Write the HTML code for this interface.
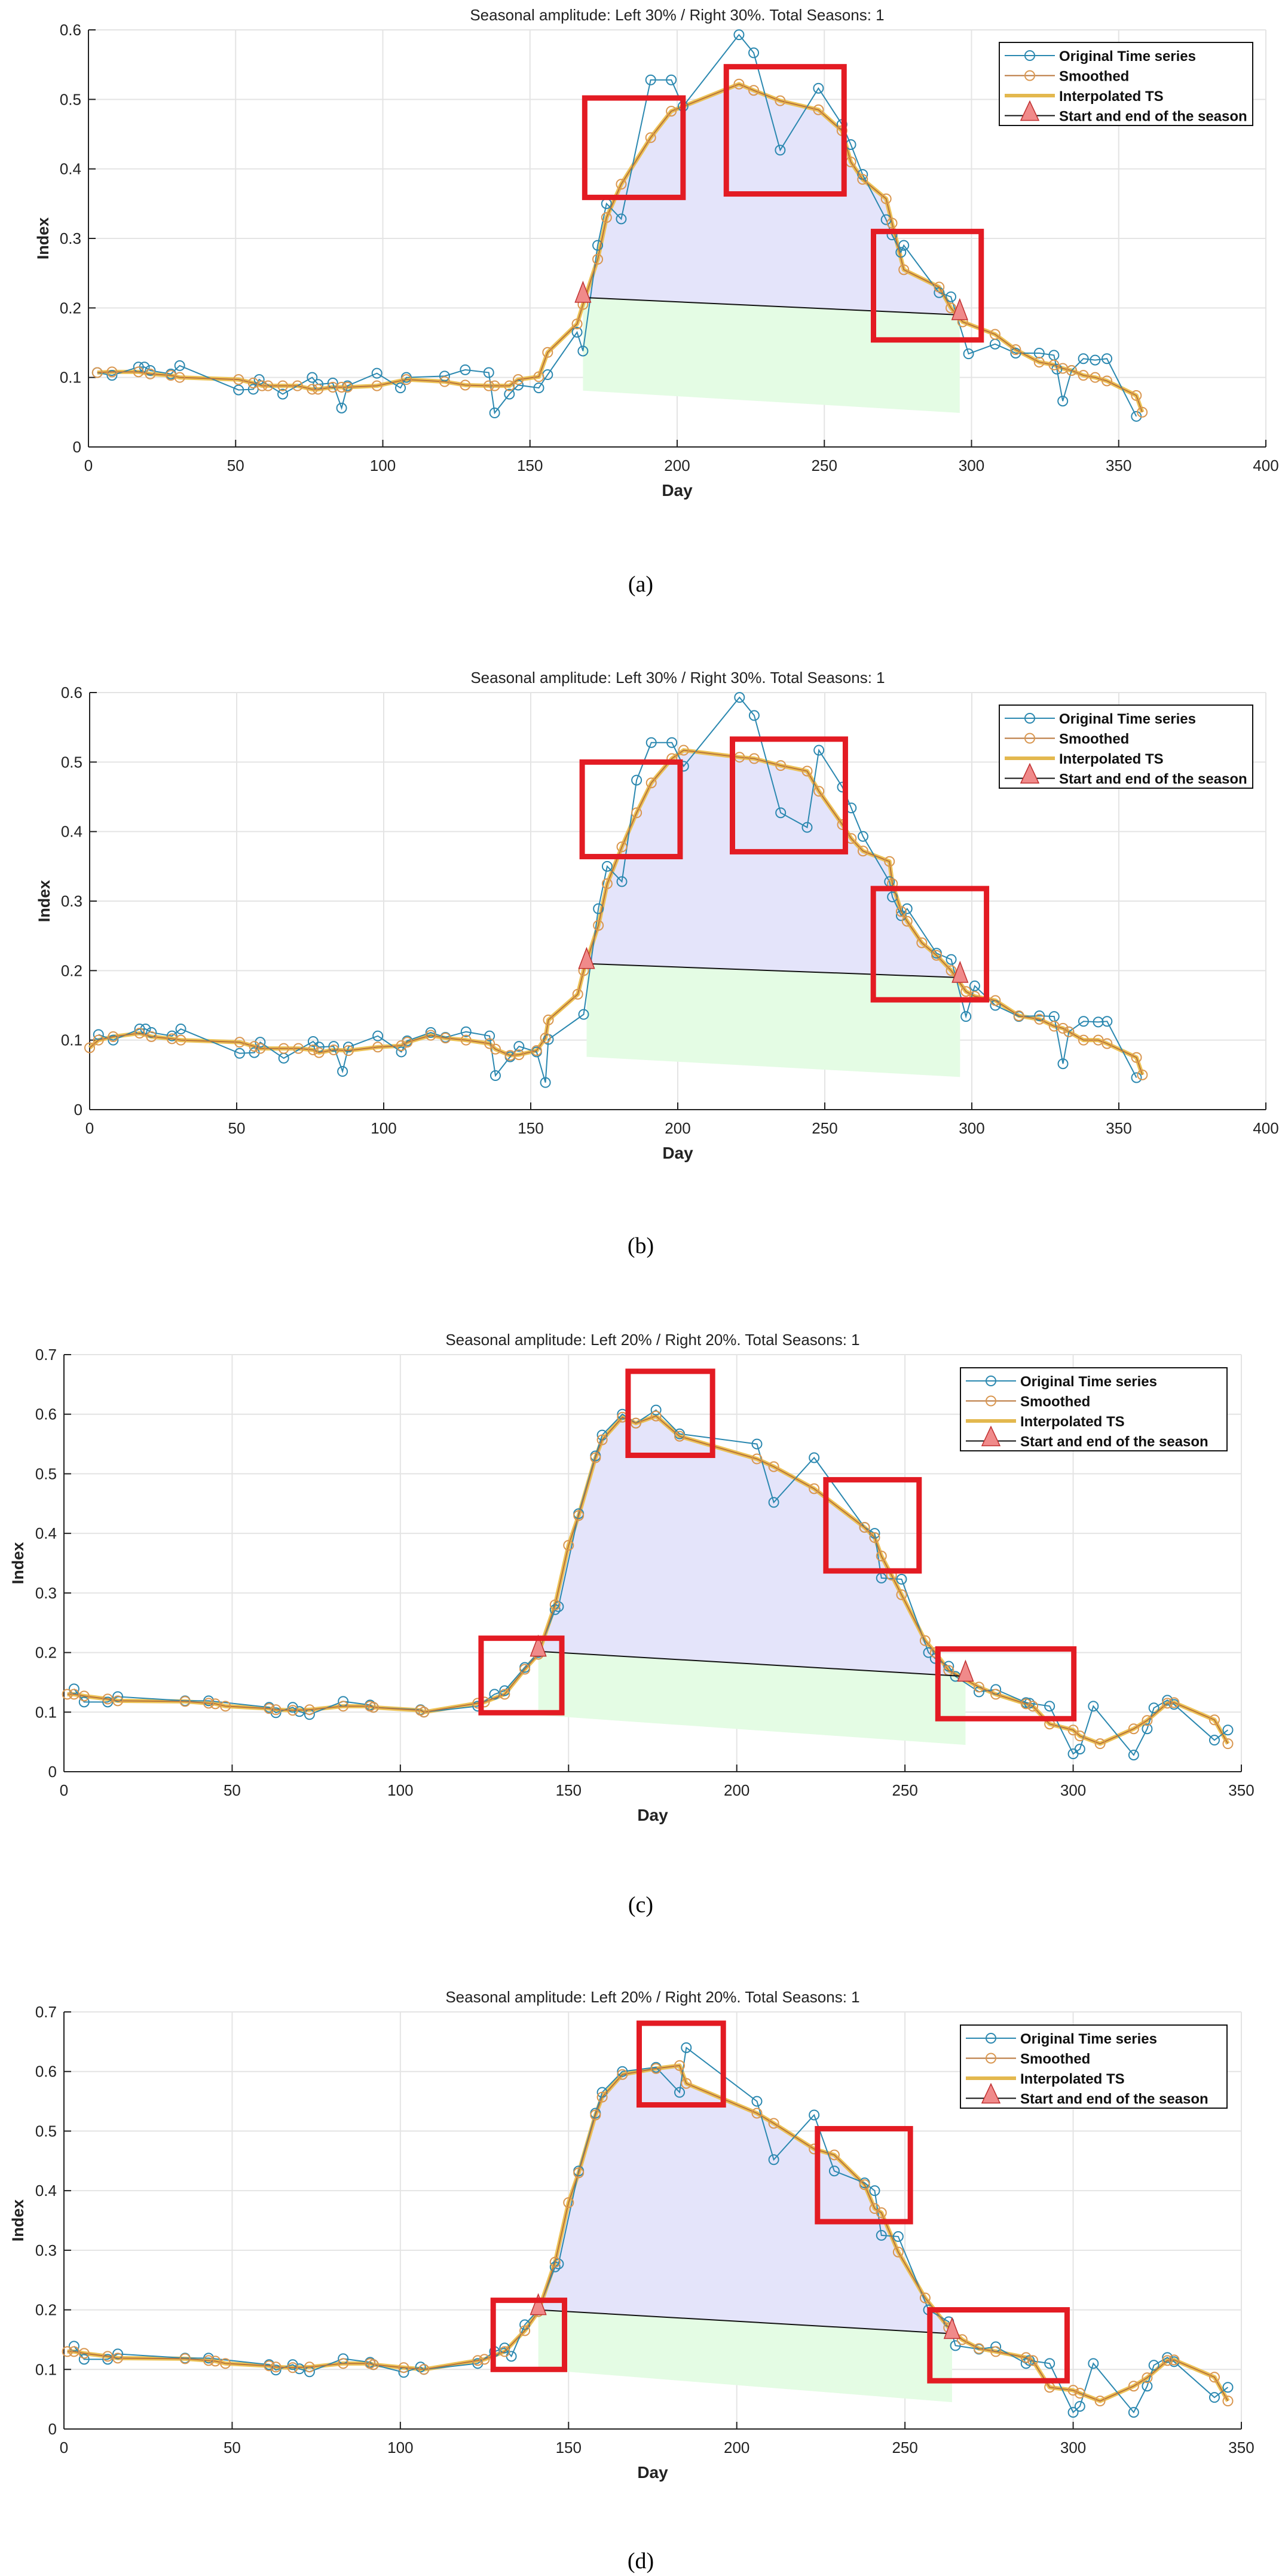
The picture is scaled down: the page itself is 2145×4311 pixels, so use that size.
<!DOCTYPE html>
<html><head><meta charset="utf-8"><style>
html,body{margin:0;padding:0;background:#fff;}
svg{display:block;font-family:"Liberation Sans",Arial,sans-serif;}
</style></head>
<body>
<svg id="fig" width="2145" height="4311" viewBox="0 0 2145 4311" xmlns="http://www.w3.org/2000/svg"></svg>
<script>
// ---------- Panel (a) data ----------
const aOrigDay=[3,8,17,19,21,28,31,51,56,58,66,76,78,83,86,88,98,106,108,121,128,136,138,143,146,153,156,166,168,173,176,181,191,198,202,221,226,235,248,256,259,263,271,273,276,277,289,293,299,308,315,323,328,329,331,334,338,342,346,356];
const aOrigVal=[.107,.103,.115,.115,.11,.105,.117,.082,.083,.097,.076,.1,.09,.092,.056,.088,.106,.085,.1,.102,.111,.107,.049,.076,.089,.085,.104,.165,.138,.29,.35,.328,.528,.528,.49,.593,.567,.427,.516,.464,.435,.392,.327,.305,.28,.29,.222,.216,.134,.148,.135,.135,.132,.112,.066,.11,.127,.125,.127,.044];
const aSmDay=[3,8,17,21,28,31,51,56,59,61,66,71,76,78,83,86,88,98,108,121,128,136,138,143,146,153,156,166,168,173,176,181,191,198,221,226,235,248,256,259,263,271,273,277,289,293,297,308,315,323,328,331,334,338,342,346,356,358];
const aSmVal=[.107,.108,.108,.105,.103,.1,.097,.092,.088,.088,.088,.088,.083,.083,.086,.086,.086,.088,.097,.094,.089,.088,.088,.088,.097,.101,.136,.177,.205,.27,.33,.378,.445,.483,.522,.513,.498,.485,.455,.41,.385,.357,.322,.255,.23,.2,.18,.162,.14,.122,.118,.113,.11,.103,.1,.095,.074,.05];
const aSeasonDay=[168,296];
const aSeasonVal=[.215,.19];
const aGreenLow=[.081,.049];
const aBoxes=[[168.6,202,.502,.359],[216.7,256.7,.547,.364],[266.7,303.3,.31,.154]];
// ---------- Panel (b) data ----------
const bOrigDay=[3,8,17,19,21,28,31,51,56,58,66,76,78,83,86,88,98,106,108,116,121,128,136,138,143,146,152,155,156,168,173,176,181,186,191,198,202,221,226,235,244,248,256,259,263,272,273,276,278,288,293,298,301,308,316,323,328,331,333,338,343,346,356];
const bOrigVal=[.108,.1,.116,.116,.111,.106,.116,.081,.082,.097,.074,.098,.09,.091,.055,.09,.106,.083,.099,.111,.104,.112,.106,.049,.076,.091,.083,.039,.101,.137,.289,.35,.328,.474,.528,.528,.494,.593,.567,.427,.406,.517,.464,.434,.393,.328,.306,.279,.289,.225,.216,.134,.178,.15,.134,.135,.134,.066,.112,.127,.126,.127,.046];
const bSmDay=[0,3,8,17,21,28,31,51,56,58,66,71,76,78,83,88,98,106,108,116,121,128,136,138,143,146,152,155,156,166,168,173,176,181,186,191,198,202,221,226,235,244,248,256,259,263,272,273,276,278,283,288,293,298,301,308,316,323,328,331,333,338,343,346,356,358];
const bSmVal=[.089,.1,.105,.11,.105,.102,.1,.097,.091,.088,.088,.088,.086,.082,.086,.085,.09,.092,.097,.107,.103,.1,.095,.087,.078,.079,.085,.103,.129,.166,.2,.265,.325,.378,.427,.47,.505,.517,.507,.505,.495,.487,.458,.41,.39,.372,.357,.325,.285,.271,.24,.222,.2,.17,.163,.157,.135,.13,.12,.117,.112,.1,.1,.095,.075,.05];
const bSeasonDay=[169,296];
const bSeasonVal=[.21,.19];
const bGreenLow=[.076,.047];
const bBoxes=[[167.5,200.8,.5,.364],[218.6,257,.533,.371],[266.5,305,.318,.158]];
// ---------- Panel (c) data ----------
const cOrigDay=[3,6,13,16,36,43,61,63,68,70,73,83,91,92,106,107,123,128,131,137,141,146,147,153,158,160,166,170,176,183,206,211,223,238,241,243,249,257,259,263,265,272,277,286,287,293,300,302,306,318,322,324,328,330,342,346];
const cOrigVal=[.139,.117,.117,.126,.119,.119,.108,.099,.108,.101,.096,.118,.112,.108,.104,.1,.11,.13,.136,.175,.2,.272,.277,.433,.53,.565,.6,.585,.607,.567,.55,.452,.527,.41,.4,.325,.323,.2,.19,.177,.16,.134,.138,.116,.115,.11,.03,.038,.11,.028,.072,.107,.12,.113,.053,.07];
const cSmDay=[1,3,6,13,16,36,43,45,48,61,63,68,73,83,91,92,106,107,123,125,131,137,141,146,150,153,158,160,166,170,176,183,206,211,223,238,241,243,246,249,256,259,263,272,277,286,288,293,300,302,308,318,322,328,330,342,346];
const cSmVal=[.13,.13,.127,.122,.119,.118,.115,.114,.11,.106,.104,.103,.104,.11,.11,.108,.103,.1,.115,.117,.13,.172,.197,.28,.38,.43,.527,.557,.595,.585,.597,.563,.525,.512,.475,.41,.393,.362,.33,.297,.22,.2,.17,.142,.13,.114,.11,.08,.07,.06,.047,.072,.086,.115,.116,.087,.047];
const cSeasonDay=[141,268];
const cSeasonVal=[.202,.16];
const cGreenLow=[.095,.045];
const cBoxes=[[124,148,.224,.099],[167.7,192.8,.672,.531],[226.5,254.2,.49,.337],[259.8,300.2,.206,.089]];
// ---------- Panel (d) data ----------
const dOrigDay=[3,6,13,16,36,43,61,63,68,70,73,83,91,92,101,106,107,123,128,131,133,137,141,146,147,153,158,160,166,176,183,185,206,211,223,229,238,241,243,248,257,263,265,272,277,286,287,293,300,302,306,318,322,324,328,330,342,346];
const dOrigVal=[.139,.117,.117,.126,.119,.119,.108,.099,.108,.101,.096,.118,.112,.108,.095,.104,.1,.11,.13,.136,.122,.175,.2,.272,.277,.433,.53,.565,.6,.607,.565,.64,.55,.452,.527,.433,.413,.4,.325,.323,.2,.18,.14,.134,.138,.11,.115,.11,.028,.038,.11,.028,.072,.107,.12,.113,.053,.07];
const dSmDay=[1,3,6,13,16,36,43,45,48,61,63,68,73,83,91,92,101,107,123,125,131,137,141,146,150,153,158,160,166,176,183,185,206,211,223,229,238,241,243,248,256,263,267,272,277,286,288,293,300,302,308,318,322,328,330,342,346];
const dSmVal=[.13,.13,.127,.122,.119,.118,.115,.114,.11,.106,.104,.103,.104,.11,.11,.108,.103,.1,.115,.117,.13,.165,.197,.28,.38,.43,.527,.557,.595,.605,.61,.58,.53,.513,.47,.46,.41,.37,.363,.297,.22,.17,.15,.135,.13,.12,.115,.07,.065,.06,.047,.072,.086,.115,.116,.087,.047];
const dSeasonDay=[141,264];
const dSeasonVal=[.2,.16];
const dGreenLow=[.1,.045];
const dBoxes=[[127.6,148.8,.216,.1],[171,196,.681,.544],[224,251.6,.504,.348],[257.4,298.2,.2,.081]];

const xTicks50=[0,50,100,150,200,250,300,350,400];
const xTicks35=[0,50,100,150,200,250,300,350];
const yTicks6=[0,.1,.2,.3,.4,.5,.6];
const yTicks7=[0,.1,.2,.3,.4,.5,.6,.7];
const titles=["Seasonal amplitude: Left 30% / Right 30%. Total Seasons: 1","Seasonal amplitude: Left 30% / Right 30%. Total Seasons: 1","Seasonal amplitude: Left 20% / Right 20%. Total Seasons: 1","Seasonal amplitude: Left 20% / Right 20%. Total Seasons: 1"];
const legendLabels=["Original Time series","Smoothed","Interpolated TS","Start and end of the season"];

const NS="http://www.w3.org/2000/svg";
const svg=document.getElementById('fig');
function mk(tag,attrs,parent){const e=document.createElementNS(NS,tag);for(const k in attrs)e.setAttribute(k,attrs[k]);(parent||svg).appendChild(e);return e;}

const layout=[
 {id:'a',x0:148,x1:2118,xmax:400,yTop:50,yBot:748,ymax:.6,xt:xTicks50,yt:yTicks6,lab:'(a)',labY:990,idxX:72,legX:1672,legY:71,legW:424,
  od:aOrigDay,ov:aOrigVal,sd:aSmDay,sv:aSmVal,seD:aSeasonDay,seV:aSeasonVal,gl:aGreenLow,bx:aBoxes},
 {id:'b',x0:150,x1:2118,xmax:400,yTop:1159,yBot:1857,ymax:.6,xt:xTicks50,yt:yTicks6,lab:'(b)',labY:2097,idxX:74,legX:1672,legY:1180,legW:424,
  od:bOrigDay,ov:bOrigVal,sd:bSmDay,sv:bSmVal,seD:bSeasonDay,seV:bSeasonVal,gl:bGreenLow,bx:bBoxes},
 {id:'c',x0:107,x1:2077,xmax:350,yTop:2267,yBot:2965,ymax:.7,xt:xTicks35,yt:yTicks7,lab:'(c)',labY:3200,idxX:30,legX:1607,legY:2289,legW:446,
  od:cOrigDay,ov:cOrigVal,sd:cSmDay,sv:cSmVal,seD:cSeasonDay,seV:cSeasonVal,gl:cGreenLow,bx:cBoxes},
 {id:'d',x0:107,x1:2077,xmax:350,yTop:3367,yBot:4065,ymax:.7,xt:xTicks35,yt:yTicks7,lab:'(d)',labY:4298,idxX:30,legX:1607,legY:3389,legW:446,
  od:dOrigDay,ov:dOrigVal,sd:dSmDay,sv:dSmVal,seD:dSeasonDay,seV:dSeasonVal,gl:dGreenLow,bx:dBoxes}
];

layout.forEach((p,pi)=>{
  const X=d=>p.x0+(d/p.xmax)*(p.x1-p.x0);
  const Y=v=>p.yBot-(v/p.ymax)*(p.yBot-p.yTop);
  const g=mk('g',{});
  
  
  // grid
  p.xt.forEach(t=>{if(t===0)return;const l=mk('line',{x1:X(t),x2:X(t),y1:p.yTop,y2:p.yBot,stroke:'#e4e4e4','stroke-width':2},g);
    
    });
  p.yt.forEach(t=>{if(t===0)return;const l=mk('line',{x1:p.x0,x2:p.x1,y1:Y(t),y2:Y(t),stroke:'#e4e4e4','stroke-width':2},g);
    
    });
  // fills
  const b0=p.seV[0],b1=p.seV[1];
  const base=d=>b0+(b1-b0)*(d-p.seD[0])/(p.seD[1]-p.seD[0]);
  const gp=[[p.seD[0],b0],[p.seD[1],b1],[p.seD[1],p.gl[1]],[p.seD[0],p.gl[0]]].map(q=>X(q[0])+','+Y(q[1])).join(' ');
  const gr=mk('polygon',{points:gp,fill:'#e4fce4'},g);
  
  
  let pts=[[p.seD[0],p.seV[0]]];
  p.sd.forEach((d,i)=>{if(d>p.seD[0]&&d<p.seD[1])pts.push([d,p.sv[i]]);});
  pts.push([p.seD[1],p.seV[1]]);
  const bp=pts.map(q=>X(q[0])+','+Y(q[1])).join(' ');
  const bf=mk('polygon',{points:bp,fill:'#e4e4fa'},g);
  
  
  // axes
  const ax=mk('line',{x1:p.x0,x2:p.x1,y1:p.yBot,y2:p.yBot,stroke:'#222','stroke-width':2},g);
  
  
  const ay=mk('line',{x1:p.x0,x2:p.x0,y1:p.yTop,y2:p.yBot,stroke:'#222','stroke-width':2},g);
  
  
  p.xt.forEach(t=>{
    const tk=mk('line',{x1:X(t),x2:X(t),y1:p.yBot,y2:p.yBot-12,stroke:'#222','stroke-width':2},g);
    
    
    const tl=mk('text',{x:X(t),y:p.yBot+40,'text-anchor':'middle','font-size':26,fill:'#222'},g);
    tl.textContent=t;
    
    
  });
  p.yt.forEach(t=>{
    const tk=mk('line',{x1:p.x0,x2:p.x0+12,y1:Y(t),y2:Y(t),stroke:'#222','stroke-width':2},g);
    
    
    const tl=mk('text',{x:p.x0-12,y:Y(t)+9,'text-anchor':'end','font-size':26,fill:'#222'},g);
    tl.textContent=t===0?'0':t.toFixed(1);
    
    
  });
  // series
  const interp=mk('polyline',{points:p.sd.map((d,i)=>X(d)+','+Y(p.sv[i])).join(' '),fill:'none',stroke:'#ebbd45','stroke-width':7,'stroke-linejoin':'round','stroke-opacity':.9},g);
  
  
  const ol=mk('polyline',{points:p.od.map((d,i)=>X(d)+','+Y(p.ov[i])).join(' '),fill:'none',stroke:'#2b88b0','stroke-width':2},g);
  
  
  p.od.forEach((d,i)=>{const c=mk('circle',{cx:X(d),cy:Y(p.ov[i]),r:8,fill:'none',stroke:'#2b88b0','stroke-width':2},g);
    
    });
  const sl=mk('polyline',{points:p.sd.map((d,i)=>X(d)+','+Y(p.sv[i])).join(' '),fill:'none',stroke:'#b8743a','stroke-width':2},g);
  
  
  p.sd.forEach((d,i)=>{const c=mk('circle',{cx:X(d),cy:Y(p.sv[i]),r:8,fill:'none',stroke:'#d9964f','stroke-width':2},g);
    
    });
  const bl=mk('line',{x1:X(p.seD[0]),y1:Y(p.seV[0]),x2:X(p.seD[1]),y2:Y(p.seV[1]),stroke:'#111','stroke-width':2},g);
  
  
  p.seD.forEach((d,i)=>{const cx=X(d),cy=Y(p.seV[i]);
    const t=mk('polygon',{points:`${cx},${cy-26} ${cx-13},${cy+8} ${cx+13},${cy+8}`,fill:'#f08a8a',stroke:'#c03030','stroke-width':1.5},g);
    
    });
  // red boxes
  p.bx.forEach(b=>{const r=mk('rect',{x:X(b[0]),y:Y(b[2]),width:X(b[1])-X(b[0]),height:Y(b[3])-Y(b[2]),fill:'none',stroke:'#e31b23','stroke-width':9},g);
    
    });
  // title & labels
  const ti=mk('text',{x:(p.x0+p.x1)/2,y:p.yTop-16,'text-anchor':'middle','font-size':26,fill:'#222'},g);
  ti.textContent=titles[pi];
  
  
  const xl=mk('text',{x:(p.x0+p.x1)/2,y:p.yBot+82,'text-anchor':'middle','font-size':28,'font-weight':'bold',fill:'#222'},g);
  xl.textContent='Day';
  
  
  const yl=mk('text',{x:0,y:0,'text-anchor':'middle','font-size':27,'font-weight':'bold',fill:'#222',transform:`translate(${p.idxX+9},${(p.yTop+p.yBot)/2}) rotate(-90)`},g);
  yl.textContent='Index';
  
  
  const pl=mk('text',{x:1072,y:p.labY,'text-anchor':'middle','font-size':38,'font-family':'Liberation Serif, serif',fill:'#000'},g);
  pl.textContent=p.lab;
  
  
  // legend
  const lg=mk('g',{},g);
  
  
  const lb=mk('rect',{x:p.legX,y:p.legY,width:p.legW,height:139,fill:'#fff',stroke:'#111','stroke-width':2},lg);
  
  
  legendLabels.forEach((s,k)=>{
    const ry=p.legY+22+k*33.5, lx0=p.legX+9, lx1=p.legX+93, mx=p.legX+51;
    const e=mk('g',{},lg);
    
    
    if(k===0){mk('line',{x1:lx0,x2:lx1,y1:ry,y2:ry,stroke:'#2b88b0','stroke-width':2},e);mk('circle',{cx:mx,cy:ry,r:8,fill:'none',stroke:'#2b88b0','stroke-width':2},e);}
    if(k===1){mk('line',{x1:lx0,x2:lx1,y1:ry,y2:ry,stroke:'#b8743a','stroke-width':2},e);mk('circle',{cx:mx,cy:ry,r:8,fill:'none',stroke:'#d9964f','stroke-width':2},e);}
    if(k===2){mk('line',{x1:lx0,x2:lx1,y1:ry,y2:ry,stroke:'#e3b84e','stroke-width':6},e);}
    if(k===3){mk('line',{x1:lx0,x2:lx1,y1:ry,y2:ry,stroke:'#111','stroke-width':2},e);mk('polygon',{points:`${mx},${ry-24} ${mx-15},${ry+8} ${mx+15},${ry+8}`,fill:'#f08a8a',stroke:'#c03030','stroke-width':1.5},e);}
    const tx=mk('text',{x:p.legX+100,y:ry+9,'font-size':24,'font-weight':'bold',fill:'#111'},e);
    tx.textContent=s;
  });
});
</script>
</body></html>
